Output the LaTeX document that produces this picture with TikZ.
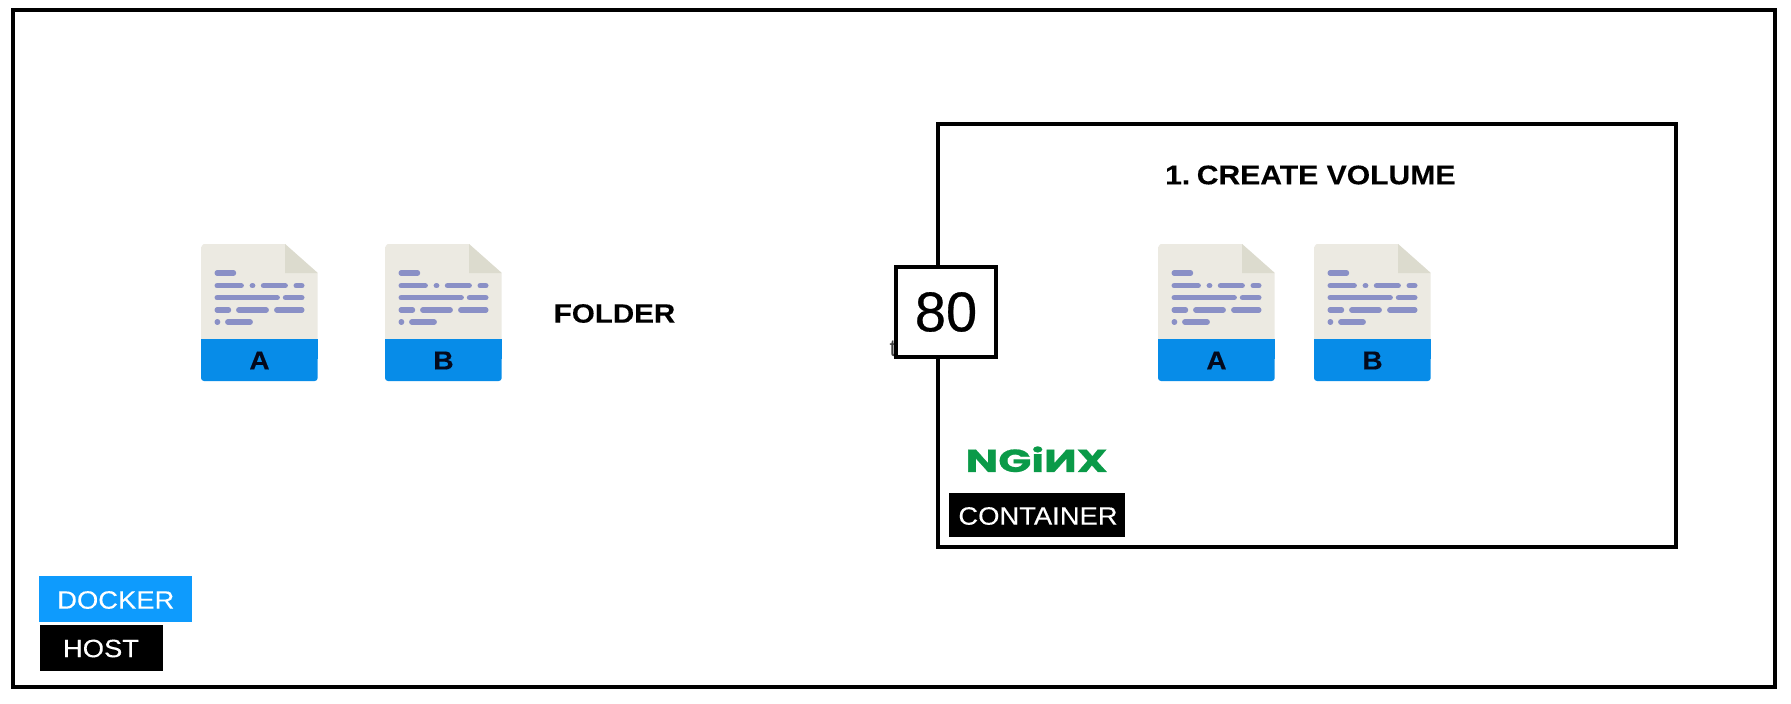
\documentclass[tikz,border=0pt]{standalone}
\usepackage{fontspec}
\setmainfont{Liberation Sans}
\newfontfamily\logofont[FakeBold=0.6]{Poppins Bold}
\newfontfamily\tagfont[FakeStretch=1.095,FakeBold=0.2]{Liberation Sans}
\newfontfamily\labelfont[FakeStretch=1.115,FakeBold=0.2]{Liberation Sans Bold}
\newfontfamily\letterfont[FakeStretch=1.08,FakeBold=0.2]{Liberation Sans Bold}
\newfontfamily\portfont[FakeBold=0.5]{Liberation Sans}
\definecolor{docbody}{HTML}{ECEAE2}
\definecolor{docfold}{HTML}{DCDBCE}
\definecolor{docband}{HTML}{078CE8}
\definecolor{docline}{HTML}{8A90C6}
\definecolor{docink}{HTML}{04091C}
\definecolor{dockerblue}{HTML}{0E9BFD}
\definecolor{nginxgreen}{HTML}{0A9A48}
\tikzset{
  x=1pt,y=-1pt,
  framebox/.style={draw=black,line width=4pt,fill=none,line join=miter},
  tagtext/.style={inner sep=0pt,font=\tagfont\fontsize{25}{25}\selectfont,text=white,anchor=center},
  tagbox/.style={inner sep=0pt,draw=none},
  boldlabel/.style={inner sep=0pt,font=\labelfont\fontsize{26.5}{26.5}\selectfont,text=black,anchor=center},
  textbar/.style={draw=docline,line width=5.4pt,line cap=round},
  docfile/.pic={
    \fill[docbody] (0,95) -- (0,3) to[out=-90,in=180] (3,0) -- (84,0) -- (116.7,29) -- (116.7,95) -- cycle;
    \fill[docfold] (84,0) -- (116.7,29) -- (84,29) -- cycle;
    \fill[docband,rounded corners=3pt] (0,105) rectangle (116.7,137);
    \fill[docband] (0,95) rectangle (116.7,115);
    \draw[textbar] (16.2,29) -- (32.5,29);
    \draw[textbar] (16.2,41.7) -- (40.2,41.7) (51.3,41.7) -- (51.7,41.7) (62.5,41.7) -- (84.2,41.7) (95.2,41.7) -- (100.8,41.7);
    \draw[textbar] (16.2,53.7) -- (76.2,53.7) (84.5,53.7) -- (100.8,53.7);
    \draw[textbar] (16.2,66) -- (27.5,66) (37.8,66) -- (65.2,66) (75.8,66) -- (100.8,66);
    \draw[textbar] (16.2,78) -- (16.6,78) (26.8,78) -- (49.2,78);
    \node[inner sep=0pt,font=\letterfont\fontsize{26}{26}\selectfont,text=docink] (-label) at (58.5,116.5) {\tikzpictext};
  }
}
\begin{document}
\begin{tikzpicture}
\useasboundingbox (0,0) rectangle (1791,704);
\fill[white] (0,0) rectangle (1791,704);
\draw[framebox] (12.7,10.3) rectangle (1775.3,686.7);
\draw[framebox] (938.3,124.3) rectangle (1676.3,547.3);

\pic[pic text=A] (hostfilea) at (201,244) {docfile};
\pic[pic text=B] (hostfileb) at (385,244) {docfile};
\pic[pic text=A] (volfilea) at (1158,244) {docfile};
\pic[pic text=B] (volfileb) at (1314,244) {docfile};

\node[boldlabel] (folder) at (614.5,313.5) {FOLDER};
\node[boldlabel,font=\labelfont\fontsize{27}{27}\selectfont] (create) at (1310.3,175) {1.\kern6.5pt CREATE VOLUME};

\node[inner sep=0pt,font=\fontsize{24}{24}\selectfont,text=black!75] (hidden) at (893,349) {t};
\node[draw=black,line width=4pt,fill=white,minimum width=100pt,minimum height=90.6pt,inner sep=0pt,font=\portfont\fontsize{56}{56}\selectfont] (port) at (946,312) {\raisebox{-4pt}{80}};

\node[inner sep=0pt,text=nginxgreen] (nginx) at (1036.7,459.3) {\resizebox{142pt}{25.5pt}{\logofont NGi\reflectbox{N}X}};

\node[tagbox,fill=black,minimum width=175.7pt,minimum height=44pt] (containerbox) at (1037.2,514.7) {};
\node[tagtext] (container) at (1038,516) {CONTAINER};

\node[tagbox,fill=dockerblue,minimum width=152.4pt,minimum height=46pt] (dockerbox) at (115.5,599) {};
\node[tagtext] (docker) at (115.8,600) {DOCKER};
\node[tagbox,fill=black,minimum width=123pt,minimum height=46pt] (hostbox) at (101.5,648) {};
\node[tagtext] (host) at (101,648.5) {HOST};
\end{tikzpicture}
\end{document}
